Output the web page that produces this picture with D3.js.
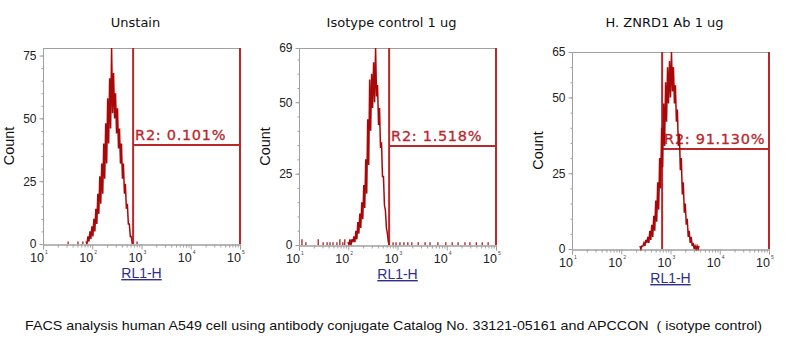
<!DOCTYPE html>
<html>
<head>
<meta charset="utf-8">
<script src="https://cdn.jsdelivr.net/npm/d3@7"></script>
<style>
  body { margin: 0; background: #fff; }
  svg { display: block; }
</style>
</head>
<body>
<script>
// panel titles / gate text
var titles = ["Unstain", "Isotype control 1 ug", "H. ZNRD1 Ab 1 ug"]
var gateLabels = ["R2: 0.101%", "R2: 1.518%", "R2: 91.130%"]
var yMax = [78, 69, 65]
var yTickVals = [[0, 25, 50, 75], [0, 25, 50, 69], [0, 25, 50, 65]]
var xDecades = [1, 2, 3, 4, 5]
var gateLow = [676, 676, 676]
var gateHigh = [100000, 100000, 100000]
var gateCount = [39.4, 34.7, 33]

// histogram channels: log10 start of the peak and counts per channel (step 0.02 log)
var binStep = 0.02
var peakStart = [1.873, 1.995, 2.38]
var unstainCounts = [1, 0, 3, 1, 5, 2, 7, 3, 10, 5, 14, 8, 20, 12, 27, 16, 32, 20, 40, 26, 48, 32, 58, 40, 66,
    46, 78, 52, 68, 50, 60, 44, 54, 38, 46, 32, 40, 26, 32, 20, 24, 14, 16, 8, 8, 3, 3, 0]
var isotypeCounts = [1, 0, 2, 0, 2, 1, 3, 1, 5, 2, 8, 4, 11, 6, 15, 9, 21, 13, 30, 18, 44, 28, 58, 40, 60, 48,
    64, 50, 69, 52, 56, 42, 48, 34, 36, 24, 24, 14, 12, 6, 4, 1, 0]
var znrd1Counts = [1, 0, 1, 1, 2, 1, 3, 2, 4, 2, 6, 3, 8, 4, 11, 6, 16, 9, 22, 13, 30, 20, 40, 27, 48, 34, 55, 42,
    60, 48, 62, 50, 65, 52, 60, 48, 54, 42, 46, 34, 38, 26, 30, 18, 22, 12, 15, 8, 10, 4, 6, 2, 4, 1, 2, 0, 1, 0, 1, 0, 1]
// isolated events outside the peak: [log10 intensity, count]
var unstainSpikes = [[1.51, 1], [1.71, 1], [1.81, 1], [2.91, 1]]
var isotypeSpikes = [[1.06, 2], [1.14, 1], [1.39, 2], [1.49, 1], [1.57, 1], [1.63, 1], [1.69, 1], [1.77, 1],
    [1.83, 2], [1.89, 1], [1.93, 2], [2.91, 1], [2.97, 1], [3.05, 1], [3.13, 1], [3.21, 1], [3.29, 1],
    [3.42, 1], [3.56, 1], [3.66, 1], [3.82, 1], [3.98, 1], [4.11, 1], [4.23, 1], [4.37, 1], [4.47, 1],
    [4.60, 1], [4.72, 1], [4.84, 1]]
var znrd1Spikes = []

var counts = [unstainCounts, isotypeCounts, znrd1Counts]
var spikes = [unstainSpikes, isotypeSpikes, znrd1Spikes]

var width = 793, height = 364
var panels = [
    {left: 43, top: 48, bottom: 244},
    {left: 299, top: 48, bottom: 245},
    {left: 572, top: 52, bottom: 249}
]
var plotW = 197
var histColor = "#a80808", gateColor = "#b8282b", axisColor = "#a0a0a0"

var svg = d3.select("body").append("svg").attr("width", width).attr("height", height)

panels.forEach(function (p, k) {
    var x = d3.scaleLog().domain([10, 100000]).range([p.left, p.left + plotW])
    var y = d3.scaleLinear().domain([0, yMax[k]]).range([p.bottom, p.top])
    var g = svg.append("g")

    // title
    g.append("text")
        .attr("x", p.left + plotW / 2 - 6).attr("y", 27)
        .attr("text-anchor", "middle")
        .style("font-family", "DejaVu Sans, Verdana, sans-serif").style("font-size", "13px")
        .attr("fill", "#111")
        .text(titles[k])

    // top border
    g.append("line")
        .attr("x1", p.left).attr("x2", p.left + plotW)
        .attr("y1", p.top + 0.5).attr("y2", p.top + 0.5)
        .attr("stroke", axisColor)

    // y axis: minor + major
    var minorY = d3.range(0, yMax[k], 5)
    var yMinor = g.append("g").attr("transform", "translate(" + (p.left + 0.5) + ",0)")
        .call(d3.axisLeft(y).tickValues(minorY).tickSize(2).tickFormat(""))
    var yMajor = g.append("g").attr("transform", "translate(" + (p.left + 0.5) + ",0)")
        .call(d3.axisLeft(y).tickValues(yTickVals[k]).tickSize(4).tickPadding(3))
    ;[yMinor, yMajor].forEach(function (a) {
        a.selectAll("path,line").attr("stroke", axisColor)
        a.select(".domain").attr("d", "M0," + p.bottom + "V" + p.top)
        a.selectAll("text").style("font-family", "Liberation Sans, Arial, sans-serif")
            .style("font-size", "12px").attr("fill", "#222")
    })

    // x axis: minor + decades
    var minorX = []
    for (var d = 1; d < 5; d++) for (var m = 2; m < 10; m++) minorX.push(m * Math.pow(10, d))
    var xMinor = g.append("g").attr("transform", "translate(0," + (p.bottom + 0.5) + ")")
        .call(d3.axisBottom(x).tickValues(minorX).tickSize(3).tickFormat(""))
    var xMajor = g.append("g").attr("transform", "translate(0," + (p.bottom + 0.5) + ")")
        .call(d3.axisBottom(x).tickValues(xDecades.map(function (e) { return Math.pow(10, e) })).tickSize(5).tickFormat(""))
    ;[xMinor, xMajor].forEach(function (a) {
        a.selectAll("path,line").attr("stroke", axisColor)
    })
    xDecades.forEach(function (e) {
        g.append("text")
            .attr("x", x(Math.pow(10, e)) + 1).attr("y", p.bottom + 18)
            .attr("text-anchor", "end")
            .style("font-family", "Liberation Sans, Arial, sans-serif").style("font-size", "12.5px")
            .attr("fill", "#222")
            .text("10")
        g.append("text")
            .attr("x", x(Math.pow(10, e)) + 2).attr("y", p.bottom + 10)
            .style("font-family", "Liberation Sans, Arial, sans-serif").style("font-size", "5px")
            .attr("fill", "#444")
            .text(e)
    })

    // axis titles
    g.append("text")
        .attr("x", p.left + plotW / 2).attr("y", p.bottom + 34)
        .attr("text-anchor", "middle")
        .style("font-family", "Liberation Sans, Arial, sans-serif").style("font-size", "14px")
        .style("text-decoration", "underline")
        .attr("fill", "#2e2e8f")
        .text("RL1-H")
    g.append("text")
        .attr("transform", "translate(" + (p.left - 29) + "," + ((p.top + p.bottom) / 2) + ") rotate(-90)")
        .attr("text-anchor", "middle")
        .style("font-family", "Liberation Sans, Arial, sans-serif").style("font-size", "14.5px")
        .attr("fill", "#111")
        .text("Count")

    // gate R2
    var gx1 = x(gateLow[k]), gx2 = x(gateHigh[k]), gy = y(gateCount[k])
    g.append("text")
        .attr("x", gx1 + 2).attr("y", gy - 5)
        .style("font-family", "DejaVu Sans, Verdana, sans-serif").style("font-size", "14.5px")
        .style("letter-spacing", "0.7px")
        .attr("fill", gateColor).attr("stroke", gateColor).attr("stroke-width", 0.3)
        .text(gateLabels[k])
    g.append("path")
        .attr("d", "M" + gx1 + "," + p.bottom + "V" + p.top + "M" + gx1 + "," + gy + "H" + gx2 +
            "M" + gx2 + "," + p.bottom + "V" + p.top)
        .attr("fill", "none").attr("stroke", gateColor).attr("stroke-width", 2)

    // isolated events
    g.selectAll(".spike").data(spikes[k]).enter().append("line")
        .attr("class", "spike")
        .attr("x1", function (s) { return x(Math.pow(10, s[0])) })
        .attr("x2", function (s) { return x(Math.pow(10, s[0])) })
        .attr("y1", y(0)).attr("y2", function (s) { return y(s[1]) })
        .attr("stroke", histColor).attr("stroke-width", 1.2)

    // histogram peak
    var line = d3.line()
        .x(function (c, i) { return x(Math.pow(10, peakStart[k] + i * binStep)) })
        .y(function (c) { return y(c) })
    g.append("path")
        .attr("d", line(counts[k]))
        .attr("fill", "none").attr("stroke", histColor).attr("stroke-width", 1.5)
        .attr("stroke-linejoin", "miter")
})

svg.append("text")
    .attr("x", 25).attr("y", 330)
    .attr("xml:space", "preserve").style("white-space", "pre")
    .attr("textLength", 737).attr("lengthAdjust", "spacingAndGlyphs")
    .style("font-family", "Liberation Sans, Arial, sans-serif").style("font-size", "13px")
    .attr("fill", "#111")
    .text("FACS analysis human A549 cell using antibody conjugate Catalog No. 33121-05161 and APCCON  ( isotype control)")
</script>
</body>
</html>
